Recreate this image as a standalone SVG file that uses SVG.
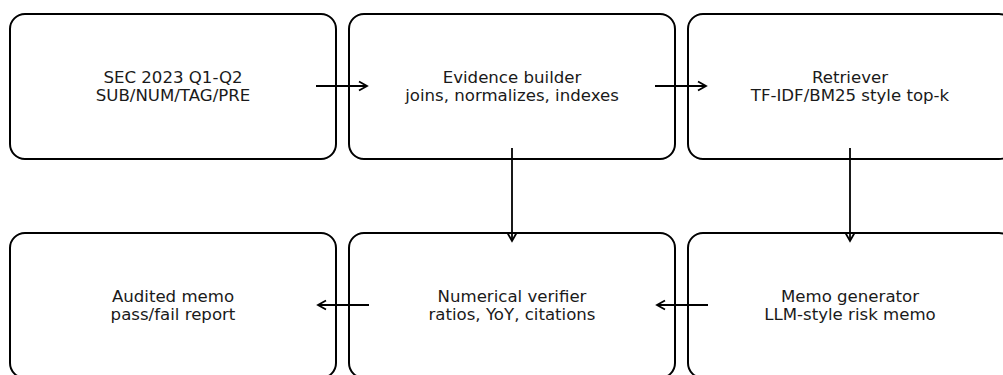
<svg xmlns="http://www.w3.org/2000/svg" width="1003" height="375" viewBox="0 0 1003 375">
<style>
.box{fill:#fff;stroke:#000;stroke-width:2}
.lbl{font-family:"DejaVu Sans",sans-serif;font-size:16.6px;fill:#1a1a1a;text-anchor:middle}
.conn{stroke:#000;stroke-width:1.8;fill:none}
.head{stroke:#000;stroke-width:1.8;fill:none;stroke-linecap:butt}
</style>
<rect width="1003" height="375" fill="#fff"/>
<g id="n1"><rect class="box" x="10" y="14" width="326" height="145" rx="15"/><text class="lbl" x="173" y="83">SEC 2023 Q1-Q2</text><text class="lbl" x="173" y="101">SUB/NUM/TAG/PRE</text></g>
<g id="n2"><rect class="box" x="349" y="14" width="326" height="145" rx="15"/><text class="lbl" x="512" y="83">Evidence builder</text><text class="lbl" x="512" y="101">joins, normalizes, indexes</text></g>
<g id="n3"><rect class="box" x="688" y="14" width="326" height="145" rx="15"/><text class="lbl" x="850" y="83">Retriever</text><text class="lbl" x="850" y="101">TF-IDF/BM25 style top-k</text></g>
<g id="n4"><rect class="box" x="10" y="233" width="326" height="145" rx="15"/><text class="lbl" x="173" y="302">Audited memo</text><text class="lbl" x="173" y="320">pass/fail report</text></g>
<g id="n5"><rect class="box" x="349" y="233" width="326" height="145" rx="15"/><text class="lbl" x="512" y="302">Numerical verifier</text><text class="lbl" x="512" y="320">ratios, YoY, citations</text></g>
<g id="n6"><rect class="box" x="688" y="233" width="326" height="145" rx="15"/><text class="lbl" x="850" y="302">Memo generator</text><text class="lbl" x="850" y="320">LLM-style risk memo</text></g>
<g id="connectors">
<path class="conn" d="M316 86H367"/><path class="head" d="M359 81.5L367 86L359 90.5"/>
<path class="conn" d="M655 86H706"/><path class="head" d="M698 81.5L706 86L698 90.5"/>
<path class="conn" d="M512 148V241"/><path class="head" d="M507.5 233L512 241L516.5 233"/>
<path class="conn" d="M850 148V241"/><path class="head" d="M845.5 233L850 241L854.5 233"/>
<path class="conn" d="M708 305H657"/><path class="head" d="M665 300.5L657 305L665 309.5"/>
<path class="conn" d="M369 305H318"/><path class="head" d="M326 300.5L318 305L326 309.5"/>
</g>
</svg>
